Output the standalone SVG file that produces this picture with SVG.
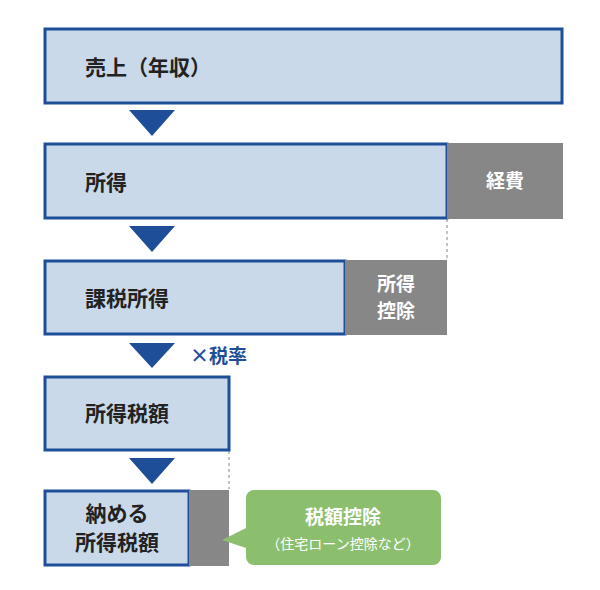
<svg xmlns="http://www.w3.org/2000/svg" width="600" height="590" viewBox="0 0 600 590">
<style>
.box{fill:#c9d9e9;stroke:#1f4e99;stroke-width:3}
.gray{fill:#878787}
.tri{fill:#1f4e99}
.t{font-family:"Noto Sans CJK JP","Noto Sans",sans-serif;font-weight:bold;font-size:21px;fill:#222}
.w{font-family:"Noto Sans CJK JP","Noto Sans",sans-serif;font-weight:bold;font-size:19px;fill:#fff}
.dash{stroke:#888;stroke-width:1;stroke-dasharray:3,3}
</style>
<rect width="600" height="590" fill="#fff"/>
<g id="connectors">
<polygon class="tri" points="129,110 175,110 152,136"/>
<polygon class="tri" points="129,226 175,226 152,252"/>
<polygon class="tri" points="129,343 175,343 152,368"/>
<polygon class="tri" points="129,458 175,458 152,484"/>
<line class="dash" x1="447" y1="219" x2="447" y2="259"/>
<line class="dash" x1="229" y1="451" x2="229" y2="489"/>
<text x="190" y="363" font-family="Noto Sans CJK JP,sans-serif" font-weight="bold" font-size="19" fill="#1f4e99">×税率</text>
</g>
<g id="n1"><rect class="box" x="45" y="29" width="517" height="74"/><text class="t" x="85" y="75">売上（年収）</text></g>
<g id="n2"><rect class="box" x="45" y="144" width="402" height="74"/><text class="t" x="85" y="190">所得</text></g>
<g id="n2b"><rect class="gray" x="447" y="143" width="116" height="76"/><text class="w" x="505" y="188" text-anchor="middle">経費</text></g>
<g id="n3"><rect class="box" x="45" y="261" width="300" height="73"/><text class="t" x="85" y="306">課税所得</text></g>
<g id="n3b"><rect class="gray" x="345" y="260" width="102" height="75"/><text class="w" x="396" y="291" text-anchor="middle">所得</text><text class="w" x="396" y="318" text-anchor="middle">控除</text></g>
<g id="n4"><rect class="box" x="45" y="377" width="184" height="73"/><text class="t" x="85" y="421">所得税額</text></g>
<g id="n5"><rect class="box" x="45" y="491" width="144" height="74"/><text class="t" x="117" y="521" text-anchor="middle">納める</text><text class="t" x="117" y="550" text-anchor="middle">所得税額</text></g>
<g id="n5b"><rect class="gray" x="189" y="490" width="40" height="76"/></g>
<g id="n6"><path d="M254,490 H433 a8,8 0 0 1 8,8 V557 a8,8 0 0 1 -8,8 H254 a8,8 0 0 1 -8,-8 V548 L222,540 L246,528 V498 a8,8 0 0 1 8,-8 Z" fill="#8bbf6e"/>
<text class="w" x="343" y="524" text-anchor="middle" font-size="17">税額控除</text>
<text x="343" y="549" text-anchor="middle" font-family="Noto Sans CJK JP,sans-serif" font-size="14" fill="#fff">（住宅ローン控除など）</text></g>
</svg>
